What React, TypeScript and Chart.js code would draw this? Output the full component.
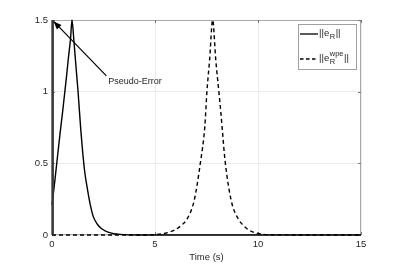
import React, { useEffect, useRef } from "react";
import { Chart, registerables } from "chart.js";
Chart.register(...registerables);

// ---- data ----
const solidTime = [0, 0.1, 0.2, 0.3, 0.4, 0.5, 0.6, 0.7, 0.8, 0.9, 0.97, 1.05, 1.15, 1.26, 1.4, 1.58, 1.72, 1.86, 2.0, 2.2, 2.4, 2.6, 2.8, 3.0, 3.3, 3.7, 4.2, 15];
const solidValue = [0.21, 0.33, 0.46, 0.59, 0.72, 0.84, 0.97, 1.1, 1.24, 1.37, 1.5, 1.38, 1.2, 1.01, 0.73, 0.45, 0.32, 0.21, 0.13, 0.075, 0.045, 0.027, 0.016, 0.009, 0.004, 0.001, 0, 0];
const dashedTime = [0, 4.5, 5.0, 5.5, 5.8, 6.0, 6.3, 6.55, 6.9, 7.2, 7.42, 7.52, 7.65, 7.8, 7.95, 8.1, 8.2, 8.27, 8.4, 8.7, 9.05, 9.3, 9.5, 9.8, 10.2, 10.8, 15];
const dashedValue = [0, 0, 0.003, 0.012, 0.025, 0.038, 0.07, 0.11, 0.24, 0.5, 0.76, 1.0, 1.22, 1.5, 1.22, 1.0, 0.85, 0.73, 0.52, 0.24, 0.11, 0.065, 0.04, 0.018, 0.006, 0.001, 0];
const spikeTime = [0.03, 0.03];
const spikeValue = [0, 1.5];
const xTickValues = [0, 5, 10, 15];
const yTickValues = [0, 0.5, 1, 1.5];
const xAxisTitle = "Time (s)";
const annotationText = "Pseudo-Error";
const annotationTail = { t: 2.64, v: 1.11 };
const annotationHead = { t: 0.08, v: 1.49 };
const annotationTextPos = { t: 2.73, v: 1.07 };

const FONT = "'Liberation Sans', Arial, Helvetica, sans-serif";
const TXT = "#262626";

const framePlugin = {
  id: "frame",
  beforeDatasetsDraw(chart: any) {
    const { ctx, chartArea: a, scales } = chart;
    const xs = scales.x, ys = scales.y;
    ctx.save();
    ctx.strokeStyle = "#a8a8a8";
    ctx.lineWidth = 1;
    ctx.strokeRect(a.left + 0.5, a.top + 0.5, a.right - a.left - 1, a.bottom - a.top - 1);
    ctx.strokeStyle = "#777";
    ctx.beginPath();
    xTickValues.forEach((v) => {
      const px = Math.round(xs.getPixelForValue(v)) + 0.5;
      ctx.moveTo(px, a.bottom); ctx.lineTo(px, a.bottom - 3);
      ctx.moveTo(px, a.top); ctx.lineTo(px, a.top + 3);
    });
    yTickValues.forEach((v) => {
      const py = Math.round(ys.getPixelForValue(v)) + 0.5;
      ctx.moveTo(a.left, py); ctx.lineTo(a.left + 3, py);
      ctx.moveTo(a.right, py); ctx.lineTo(a.right - 3, py);
    });
    ctx.stroke();
    ctx.restore();
  },
};

const overlayPlugin = {
  id: "overlay",
  afterDatasetsDraw(chart: any) {
    const { ctx, chartArea: a, scales } = chart;
    const xs = scales.x, ys = scales.y;
    ctx.save();
    // annotation arrow
    const tx = xs.getPixelForValue(annotationTail.t), ty = ys.getPixelForValue(annotationTail.v);
    const hx = xs.getPixelForValue(annotationHead.t), hy = ys.getPixelForValue(annotationHead.v);
    ctx.strokeStyle = "#000";
    ctx.fillStyle = "#000";
    ctx.lineWidth = 1.2;
    ctx.beginPath();
    ctx.moveTo(tx, ty); ctx.lineTo(hx, hy); ctx.stroke();
    const ang = Math.atan2(hy - ty, hx - tx);
    const L = 8, W = 3.2;
    ctx.beginPath();
    ctx.moveTo(hx, hy);
    ctx.lineTo(hx - L * Math.cos(ang) + W * Math.sin(ang), hy - L * Math.sin(ang) - W * Math.cos(ang));
    ctx.lineTo(hx - L * Math.cos(ang) - W * Math.sin(ang), hy - L * Math.sin(ang) + W * Math.cos(ang));
    ctx.closePath(); ctx.fill();
    ctx.font = `9px ${FONT}`;
    ctx.fillStyle = TXT;
    ctx.textBaseline = "middle";
    ctx.textAlign = "left";
    ctx.fillText(annotationText, xs.getPixelForValue(annotationTextPos.t), ys.getPixelForValue(annotationTextPos.v));

    // legend
    const bx = a.right - 63, by = a.top + 4, bw = 58, bh = 45;
    ctx.fillStyle = "#fff";
    ctx.fillRect(bx, by, bw, bh);
    ctx.strokeStyle = "#a0a0a0";
    ctx.lineWidth = 1;
    ctx.strokeRect(bx + 0.5, by + 0.5, bw, bh);
    const row1 = by + 10, row2 = by + 35;
    ctx.strokeStyle = "#000";
    ctx.lineWidth = 1.3;
    ctx.beginPath(); ctx.moveTo(bx + 2, row1); ctx.lineTo(bx + 20, row1); ctx.stroke();
    ctx.setLineDash([3.5, 2.5]);
    ctx.beginPath(); ctx.moveTo(bx + 2, row2); ctx.lineTo(bx + 20, row2); ctx.stroke();
    ctx.setLineDash([]);
    ctx.fillStyle = TXT;
    const big = `9.5px ${FONT}`, small = `7.5px ${FONT}`;
    const drawEntry = (x: number, y: number, sup: string | null) => {
      ctx.font = big;
      ctx.fillText("||e", x, y);
      let cx = x + ctx.measureText("||e").width + 0.5;
      ctx.font = small;
      ctx.fillText("R", cx, y + 4);
      let w = ctx.measureText("R").width;
      if (sup) {
        ctx.fillText(sup, cx, y - 4);
        w = Math.max(w, ctx.measureText(sup).width);
      }
      cx += w + 0.5;
      ctx.font = big;
      ctx.fillText("||", cx, y);
    };
    drawEntry(bx + 21, row1 - 1, null);
    drawEntry(bx + 21, row2 - 1, "wpe");
    ctx.restore();
  },
};

export default function App() {
  const ref = useRef<HTMLCanvasElement>(null);
  useEffect(() => {
    if (!ref.current) return;
    const pts = (t: number[], v: number[]) => t.map((x, i) => ({ x, y: v[i] }));
    const chart = new Chart(ref.current, {
      type: "line",
      data: {
        datasets: [
          {
            label: "spike",
            data: pts(spikeTime, spikeValue),
            borderColor: "#3a3a3a",
            borderWidth: 2.6,
            pointRadius: 0,
            clip: false,
          },
          {
            label: "||e_R||",
            data: pts(solidTime, solidValue),
            borderColor: "#000",
            borderWidth: 1.4,
            pointRadius: 0,
            cubicInterpolationMode: "monotone",
            clip: false,
          },
          {
            label: "||e_R^wpe||",
            data: pts(dashedTime, dashedValue),
            borderColor: "#000",
            borderWidth: 1.4,
            borderDash: [4, 3],
            pointRadius: 0,
            cubicInterpolationMode: "monotone",
            clip: false,
          },
        ],
      },
      options: {
        animation: false,
        responsive: false,
        layout: { padding: { left: 0, right: 38, top: 20, bottom: 0 } },
        plugins: { legend: { display: false }, tooltip: { enabled: false } },
        scales: {
          x: {
            type: "linear",
            min: 0,
            max: 15,
            afterBuildTicks: (s: any) => { s.ticks = xTickValues.map((v) => ({ value: v })); },
            afterFit: (s: any) => { s.height = 29; },
            grid: { color: "#ebebeb", drawTicks: false },
            border: { display: false },
            ticks: { padding: 4, color: TXT, font: { family: FONT, size: 9.5 }, maxRotation: 0 },
            title: { display: true, text: xAxisTitle, color: TXT, font: { family: FONT, size: 9.5 }, padding: { top: 0, bottom: 1 } },
          },
          y: {
            type: "linear",
            min: 0,
            max: 1.5,
            afterBuildTicks: (s: any) => { s.ticks = yTickValues.map((v) => ({ value: v })); },
            afterFit: (s: any) => { s.width = 52; },
            grid: { color: "#ebebeb", drawTicks: false },
            border: { display: false },
            ticks: { padding: 4, color: TXT, font: { family: FONT, size: 9.5 }, callback: (v: any) => String(v) },
          },
        },
      },
      plugins: [framePlugin, overlayPlugin],
    });
    return () => chart.destroy();
  }, []);
  return (
    <div style={{ position: "absolute", left: 0, top: 0, width: 399, height: 264, background: "#fff" }}>
      <canvas ref={ref} width={399} height={264} style={{ display: "block" }} />
    </div>
  );
}
